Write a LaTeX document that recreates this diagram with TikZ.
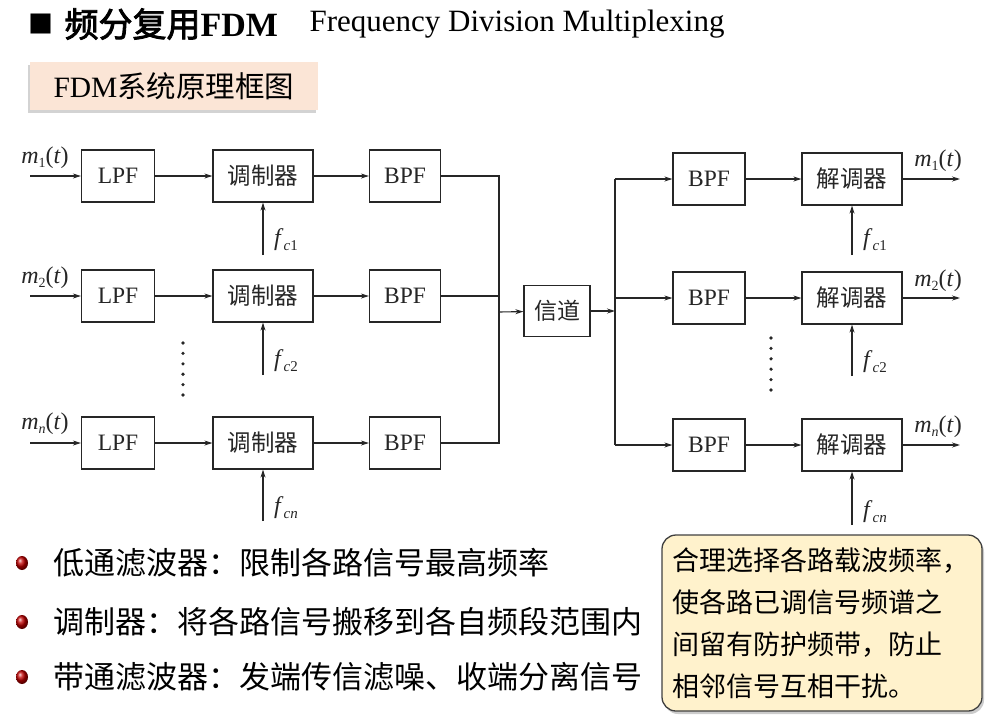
\documentclass[tikz,border=0pt]{standalone}
\usepackage{fontspec}
\setmainfont{Liberation Serif}
\newfontfamily\cjk{Noto Sans CJK SC}
\newfontfamily\cjkb[FakeBold=2.5]{Noto Sans CJK SC}
\usetikzlibrary{arrows.meta,shadows}
\definecolor{peach}{HTML}{FBE5D6}
\definecolor{notefill}{HTML}{FFF2CC}
\definecolor{bulred}{HTML}{C00000}
\definecolor{ln}{gray}{0.15}
\newcommand{\msig}[1]{\textit{m}\raisebox{-4pt}{\fontsize{14}{14}\selectfont #1}(\textit{t})}
\newcommand{\fcar}[1]{\textit{f}\raisebox{-5pt}{\fontsize{15}{15}\selectfont\textit{c}#1}}
\tikzset{
  blk/.style={draw=ln,line width=1.2pt,minimum height=52pt,inner sep=0pt,
    font=\fontsize{23.5}{23.5}\selectfont},
  lpf/.style={blk,minimum width=73pt},
  bpf/.style={blk,minimum width=71pt},
  modu/.style={blk,minimum width=100pt,font=\cjk\fontsize{23.5}{23.5}\selectfont},
  lbl/.style={font=\fontsize{24}{24}\selectfont,inner sep=0pt},
  bul/.style={anchor=west,font=\cjk\fontsize{31}{31}\selectfont,inner sep=0pt},
}
\begin{document}
\begin{tikzpicture}[x=1pt,y=-1pt,>={Stealth[length=8pt,width=5pt]},line width=1.1pt]
  \useasboundingbox (0,0) rectangle (992,721);
  % title
  \node[anchor=west,font=\cjk\fontsize{25}{25}\selectfont,inner sep=0pt] (SQ) at (28,24) {■};
  \node[anchor=west,inner sep=0pt] (TTL) at (64,24)
    {{\cjkb\fontsize{34}{34}\selectfont 频分复用}{\fontsize{34}{34}\selectfont\bfseries FDM}};
  \node[anchor=west,inner sep=0pt,font=\fontsize{31}{31}\selectfont] (ENG) at (309,24)
    {Frequency Division Multiplexing};
  \node[fill=peach,drop shadow={shadow xshift=-2pt,shadow yshift=-3pt,opacity=.35},
    minimum width=288pt,minimum height=48pt,inner sep=0pt,font=\fontsize{29.5}{29.5}\selectfont]
    (HDR) at (174,86) {FDM{\cjk 系统原理框图}};

  \begin{scope}[color=ln]
    % transmitter
    \node[lpf](LPF1) at(118,176) {LPF};
    \node[modu](MOD1) at(263,176) {调制器};
    \node[bpf](BPF1) at(405,176) {BPF};
    \node[lpf](LPF2) at(118,296) {LPF};
    \node[modu](MOD2) at(263,296) {调制器};
    \node[bpf](BPF2) at(405,296) {BPF};
    \node[lpf](LPFn) at(118,443) {LPF};
    \node[modu](MODn) at(263,443) {调制器};
    \node[bpf](BPFn) at(405,443) {BPF};
    \coordinate(IN1) at(30,176);
    \coordinate(IN2) at(30,296);
    \coordinate(INn) at(30,443);
    \node[lbl](M1) at(45,158) {\msig{1}};
    \node[lbl](M2) at(45,278) {\msig{2}};
    \node[lbl](Mn) at(45,424) {\msig{\textit{n}}};
    \coordinate(FC1) at(263,255);
    \coordinate(FC2) at(263,375);
    \coordinate(FCn) at(263,521);
    \node[lbl](F1) at(286,240) {\fcar{1}};
    \node[lbl](F2) at(286,361) {\fcar{2}};
    \node[lbl](Fn) at(286,508) {\fcar{\textit{n}}};
    \coordinate(J1) at(499,176);
    \coordinate(J2) at(499,296);
    \coordinate(Jn) at(499,443);
    \coordinate(JC) at(499,312);

    % channel
    \node[blk,minimum width=66pt,minimum height=51pt,font=\cjk\fontsize{23}{23}\selectfont](CH) at(557,311) {信道};
    \coordinate(SP) at(615,311);
    \coordinate(SP1) at(615,179);
    \coordinate(SP2) at(615,298);
    \coordinate(SPn) at(615,445);

    % receiver
    \node[bpf,minimum width=72pt](RBPF1) at(709,179) {BPF};
    \node[modu](DEM1) at(852,179) {解调器};
    \node[bpf,minimum width=72pt](RBPF2) at(709,298) {BPF};
    \node[modu](DEM2) at(852,298) {解调器};
    \node[bpf,minimum width=72pt](RBPFn) at(709,445) {BPF};
    \node[modu](DEMn) at(852,445) {解调器};
    \coordinate(OUT1) at(960,179);
    \coordinate(OUT2) at(960,298);
    \coordinate(OUTn) at(960,445);
    \node[lbl](R1) at(938,161) {\msig{1}};
    \node[lbl](R2) at(938,281) {\msig{2}};
    \node[lbl](Rn) at(938,427) {\msig{\textit{n}}};
    \coordinate(RFC1) at(852,255);
    \coordinate(RFC2) at(852,376);
    \coordinate(RFCn) at(852,525);
    \node[lbl](G1) at(875,240) {\fcar{1}};
    \node[lbl](G2) at(875,362) {\fcar{2}};
    \node[lbl](Gn) at(875,512) {\fcar{\textit{n}}};

    \foreach \x/\y in{IN1/LPF1, LPF1/MOD1, MOD1/BPF1, FC1/MOD1,
      IN2/LPF2, LPF2/MOD2, MOD2/BPF2, FC2/MOD2,
      INn/LPFn, LPFn/MODn, MODn/BPFn, FCn/MODn,
      JC/CH, CH/SP,
      SP1/RBPF1, RBPF1/DEM1, DEM1/OUT1, RFC1/DEM1,
      SP2/RBPF2, RBPF2/DEM2, DEM2/OUT2, RFC2/DEM2,
      SPn/RBPFn, RBPFn/DEMn, DEMn/OUTn, RFCn/DEMn%
    }{
      \draw[->](\x)--(\y);
    }
    \draw(BPF1)--(J1)--(Jn)--(BPFn);
    \draw(BPF2)--(J2);
    \draw(SP1)--(SPn);
    \foreach \k in{0,...,5}{
      \fill(183,343+\k*10.4) circle(1.8pt);
      \fill(771,338+\k*10.4) circle(1.8pt);
    }
  \end{scope}

  % notes
  \foreach \yy/\txt in{563/低通滤波器：限制各路信号最高频率,
    622/调制器：将各路信号搬移到各自频段范围内,
    677/带通滤波器：发端传信滤噪、收端分离信号}{
    \shade[ball color=bulred](22,\yy) ellipse(6pt and 7pt);
    \node[bul] at(53,\yy) {\txt};
  }
  \node[draw=black!75,line width=1.3pt,fill=notefill,rounded corners=14pt,
    drop shadow={shadow xshift=2pt,shadow yshift=-3pt,opacity=.4},
    minimum width=320pt,minimum height=176pt,text width=300pt,align=left,
    font=\cjk\fontsize{27}{42}\selectfont] (NOTE) at(822,623)
    {合理选择各路载波频率，\\使各路已调信号频谱之\\间留有防护频带，防止\\相邻信号互相干扰。};
\end{tikzpicture}
\end{document}
